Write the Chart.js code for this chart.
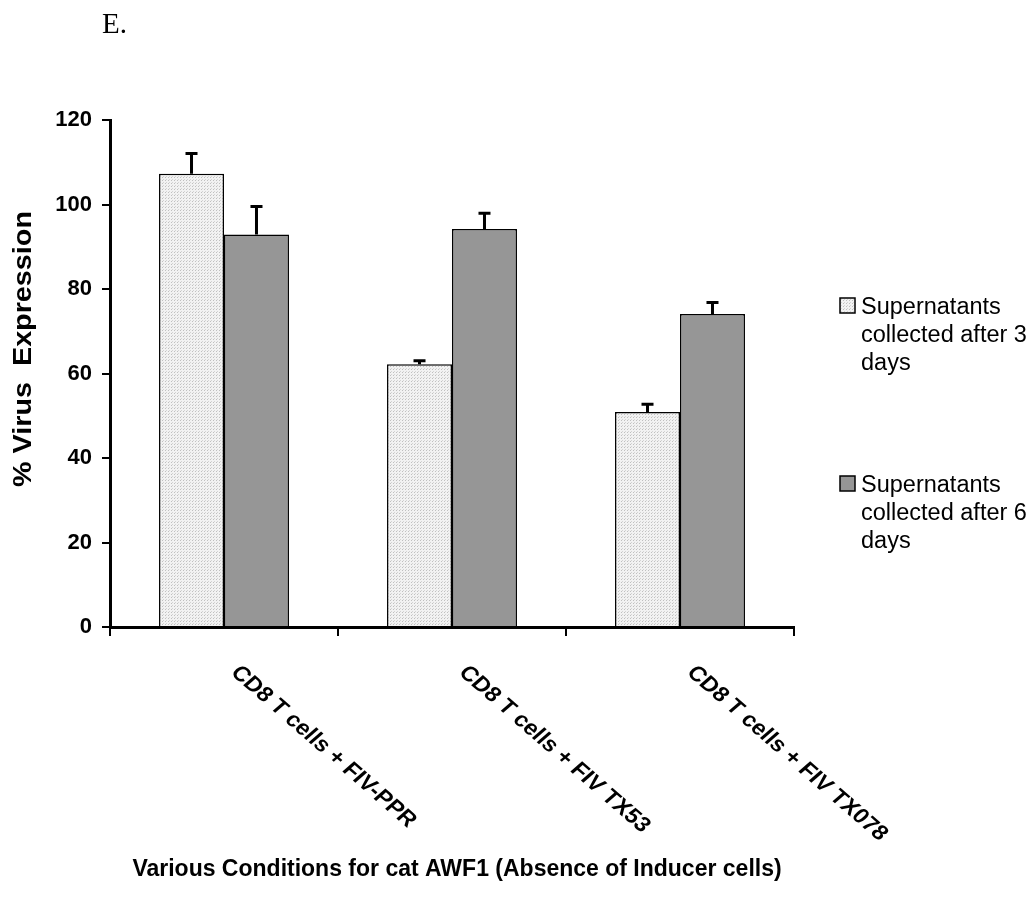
<!DOCTYPE html>
<html>
<head>
<meta charset="utf-8">
<script src="https://cdn.jsdelivr.net/npm/chart.js@4/dist/chart.umd.min.js"></script>
<style>
html,body{margin:0;padding:0;background:#fff;}
#wrap{width:1035px;height:923px;position:relative;}
</style>
</head>
<body>
<div id="wrap"><canvas id="c" width="1035" height="923"></canvas></div>
<script>
// ---- data ----
const categories = ["CD8 T cells + FIV-PPR", "CD8 T cells + FIV TX53", "CD8 T cells + FIV TX078"];
const seriesNames = ["Supernatants collected after 3 days", "Supernatants collected after 6 days"];
const legendLines = [["Supernatants", "collected after 3", "days"], ["Supernatants", "collected after 6", "days"]];
const day3Values = [107.3, 62.2, 50.9];
const day6Values = [92.9, 94.2, 74.1];
const day3Errors = [4.8, 0.8, 1.8];
const day6Errors = [6.6, 3.7, 2.7];
const yTicks = [0, 20, 40, 60, 80, 100, 120];
const xTitle = "Various Conditions for cat AWF1 (Absence of Inducer cells)";
const yTitle = "% Virus  Expression";
const panelLabel = "E.";

// ---- pattern for light bars ----
function makePattern() {
  const p = document.createElement('canvas');
  p.width = 3; p.height = 3;
  const g = p.getContext('2d');
  g.fillStyle = '#f2f2f2';
  g.fillRect(0, 0, 3, 3);
  g.fillStyle = '#c0c0c0';
  g.fillRect(0, 0, 1, 1);
  g.fillStyle = '#d4d4d4';
  g.fillRect(1, 2, 1, 1);
  return document.getElementById('c').getContext('2d').createPattern(p, 'repeat');
}
const lightFill = makePattern();
const darkFill = '#969696';
const fills = [lightFill, darkFill];
const errors = [day3Errors, day6Errors];

const FONT = "'Liberation Sans', Arial, sans-serif";

const errorBars = {
  id: 'errorBars',
  afterDatasetsDraw(chart) {
    const ctx = chart.ctx;
    const y = chart.scales.y;
    ctx.save();
    ctx.strokeStyle = '#000';
    ctx.lineWidth = 3;
    chart.data.datasets.forEach((ds, di) => {
      const meta = chart.getDatasetMeta(di);
      meta.data.forEach((bar, i) => {
        const top = y.getPixelForValue(ds.data[i] + errors[di][i]);
        const base = bar.y;
        ctx.beginPath();
        ctx.moveTo(bar.x, base);
        ctx.lineTo(bar.x, top);
        ctx.moveTo(bar.x - 6, top);
        ctx.lineTo(bar.x + 6, top);
        ctx.stroke();
      });
    });
    ctx.restore();
  }
};

const extras = {
  id: 'extras',
  afterDraw(chart) {
    const ctx = chart.ctx;
    const xs = chart.scales.x;
    ctx.save();
    ctx.fillStyle = '#000';
    // panel label
    ctx.font = "29px 'Liberation Serif', 'Times New Roman', serif";
    ctx.textAlign = 'left';
    ctx.textBaseline = 'alphabetic';
    ctx.fillText(panelLabel, 102, 33);
    // y title
    ctx.save();
    ctx.font = "bold 25px " + FONT;
    ctx.translate(24, 349);
    ctx.rotate(-Math.PI / 2);
    ctx.scale(1.15, 1);
    ctx.textAlign = 'center';
    ctx.textBaseline = 'middle';
    ctx.fillText(yTitle, 0, 0);
    ctx.restore();
    // category labels rotated (slightly stretched horizontally like the reference)
    ctx.font = "bold 21px " + FONT;
    categories.forEach((c, i) => {
      const cx = xs.getPixelForValue(i);
      ctx.save();
      ctx.translate(cx + 19, 662);
      ctx.scale(1.15, 1);
      ctx.rotate(Math.PI / 4);
      ctx.textAlign = 'left';
      ctx.textBaseline = 'top';
      ctx.fillText(c, 0, 0);
      ctx.restore();
    });
    // x title
    ctx.font = "bold 23px " + FONT;
    ctx.textAlign = 'center';
    ctx.textBaseline = 'middle';
    ctx.fillText(xTitle, 457, 870);
    // legend
    ctx.font = "23.5px " + FONT;
    ctx.textAlign = 'left';
    ctx.textBaseline = 'alphabetic';
    legendLines.forEach((lines, di) => {
      const y0 = 298 + di * 178;
      ctx.fillStyle = fills[di];
      ctx.fillRect(840, y0, 15, 15);
      ctx.strokeStyle = '#000';
      ctx.lineWidth = 1.5;
      ctx.strokeRect(840, y0, 15, 15);
      ctx.fillStyle = '#000';
      lines.forEach((t, k) => {
        ctx.fillText(t, 861, y0 + 16 + k * 28);
      });
    });
    ctx.restore();
  }
};

new Chart(document.getElementById('c'), {
  type: 'bar',
  data: {
    labels: categories,
    datasets: [
      { label: seriesNames[0], data: day3Values, backgroundColor: lightFill, borderColor: '#000', borderWidth: 1.5 },
      { label: seriesNames[1], data: day6Values, backgroundColor: darkFill, borderColor: '#000', borderWidth: 1.5 }
    ]
  },
  options: {
    responsive: false,
    animation: false,
    events: [],
    layout: { padding: { left: 0, right: 241, top: 120, bottom: 0 } },
    datasets: { bar: { categoryPercentage: 0.57, barPercentage: 1.0 } },
    plugins: { legend: { display: false }, tooltip: { enabled: false } },
    scales: {
      x: {
        offset: true,
        grid: { offset: true, drawOnChartArea: false, drawTicks: true, tickLength: 9, color: '#000', lineWidth: 2 },
        border: { display: true, color: '#000', width: 3 },
        ticks: { display: false },
        afterFit(s) { s.height = 296; }
      },
      y: {
        min: 0, max: 120,
        afterBuildTicks(s) { s.ticks = yTicks.map(v => ({ value: v })); },
        grid: { drawOnChartArea: false, drawTicks: true, tickLength: 8, color: '#000', lineWidth: 2 },
        border: { display: true, color: '#000', width: 3 },
        ticks: { color: '#000', padding: 10, font: { family: FONT, size: 22, weight: 'bold' } },
        afterFit(s) { s.width = 110; }
      }
    }
  },
  plugins: [errorBars, extras]
});
</script>
</body>
</html>
